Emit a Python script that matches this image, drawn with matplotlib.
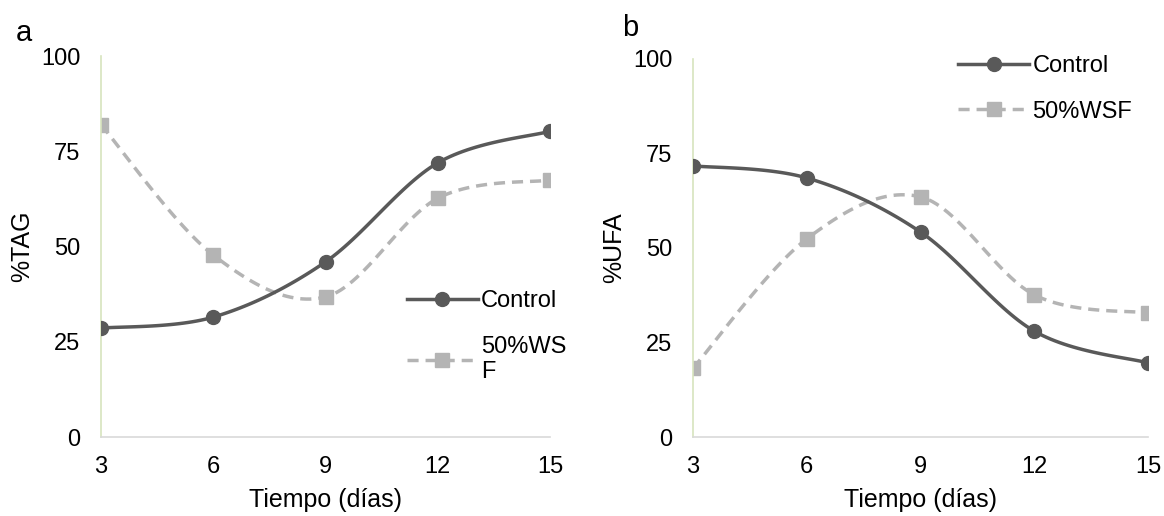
import numpy as np
import matplotlib.pyplot as plt

plt.rcParams['font.family'] = ['Liberation Sans', 'DejaVu Sans']
plt.rcParams['font.size'] = 17

# data
dias = [3, 6, 9, 12, 15]
tag_control = [28.6, 31.5, 46.0, 72.0, 80.3]
tag_wsf = [82.0, 47.8, 36.8, 62.7, 67.5]
ufa_control = [71.7, 68.5, 54.2, 28.0, 19.6]
ufa_wsf = [18.2, 52.4, 63.5, 37.6, 32.8]

c_dark = '#595959'
c_light = '#b4b4b4'


def smooth(x, y, n=30):
    # Excel-like smoothed line (cubic bezier, catmull-rom tangents)
    x = np.asarray(x, float)
    y = np.asarray(y, float)
    px = np.concatenate([[x[0]], x, [x[-1]]])
    py = np.concatenate([[y[0]], y, [y[-1]]])
    xs, ys = [], []
    t = np.linspace(0, 1, n)
    for i in range(len(x) - 1):
        p0 = np.array([px[i + 1], py[i + 1]])
        p3 = np.array([px[i + 2], py[i + 2]])
        p1 = p0 + (np.array([px[i + 2], py[i + 2]]) - np.array([px[i], py[i]])) / 6
        p2 = p3 - (np.array([px[i + 3], py[i + 3]]) - np.array([px[i + 1], py[i + 1]])) / 6
        b = ((1 - t) ** 3)[:, None] * p0 + (3 * (1 - t) ** 2 * t)[:, None] * p1 \
            + (3 * (1 - t) * t ** 2)[:, None] * p2 + (t ** 3)[:, None] * p3
        xs.append(b[:, 0])
        ys.append(b[:, 1])
    return np.concatenate(xs), np.concatenate(ys)


fig = plt.figure(figsize=(11.64, 5.16), dpi=100)
ax1 = fig.add_axes([0.0868, 0.153, 0.3857, 0.738])
ax2 = fig.add_axes([0.5954, 0.153, 0.3909, 0.733])

panels = [(ax1, tag_control, tag_wsf, '%TAG', 'a', '50%WS\nF'),
          (ax2, ufa_control, ufa_wsf, '%UFA', 'b', '50%WSF')]

for ax, yc, yw, ylab, letter, wlab in panels:
    sx, sy = smooth(dias, yc)
    ax.plot(sx, sy, color=c_dark, lw=2.5, solid_capstyle='round', zorder=3)
    ax.plot(dias, yc, 'o', color=c_dark, ms=10, zorder=4)
    sx, sy = smooth(dias, yw)
    ax.plot(sx, sy, color=c_light, lw=2.5, dashes=(3.2, 2.0), zorder=2)
    ax.plot(dias, yw, 's', color=c_light, ms=10, zorder=2)
    # legend proxies
    ax.plot([], [], '-o', color=c_dark, lw=2.5, ms=10, label='Control')
    ax.plot([], [], '--s', color=c_light, lw=2.5, ms=10, dashes=(3.2, 2.0), label=wlab)

    ax.set_xlim(3, 15)
    ax.set_ylim(0, 100)
    ax.set_xticks(dias)
    ax.set_yticks([0, 25, 50, 75, 100])
    ax.tick_params(axis='x', length=0, labelsize=17, pad=14)
    ax.tick_params(axis='y', length=0, labelsize=17, pad=15)
    for s in ['top', 'right']:
        ax.spines[s].set_visible(False)
    ax.spines['left'].set_color('#d7e4bd')
    ax.spines['bottom'].set_color('#d9d9d9')
    ax.spines['left'].set_linewidth(1.2)
    ax.spines['bottom'].set_linewidth(1.2)
    ax.set_xlabel('Tiempo (días)', fontsize=18, labelpad=7)
    ax.set_ylabel(ylab, fontsize=18, labelpad=5)
    ax.patch.set_alpha(0)
    for sp in ax.spines.values():
        sp.set_clip_on(False)

ax1.text(-0.19, 1.04, 'a', transform=ax1.transAxes, fontsize=21)
ax2.text(-0.155, 1.06, 'b', transform=ax2.transAxes, fontsize=21)

h, l = ax1.get_legend_handles_labels()
ax1.legend(h[-2:], l[-2:], loc='upper left', bbox_to_anchor=(0.66, 0.41), frameon=False,
           handlelength=3.0, labelspacing=1.0, handletextpad=0.15, fontsize=17, borderaxespad=0)
h, l = ax2.get_legend_handles_labels()
ax2.legend(h[-2:], l[-2:], loc='upper left', bbox_to_anchor=(0.562, 1.035), frameon=False,
           handlelength=3.0, labelspacing=1.0, handletextpad=0.15, fontsize=17, borderaxespad=0)

fig.savefig('out.png', dpi=100)
